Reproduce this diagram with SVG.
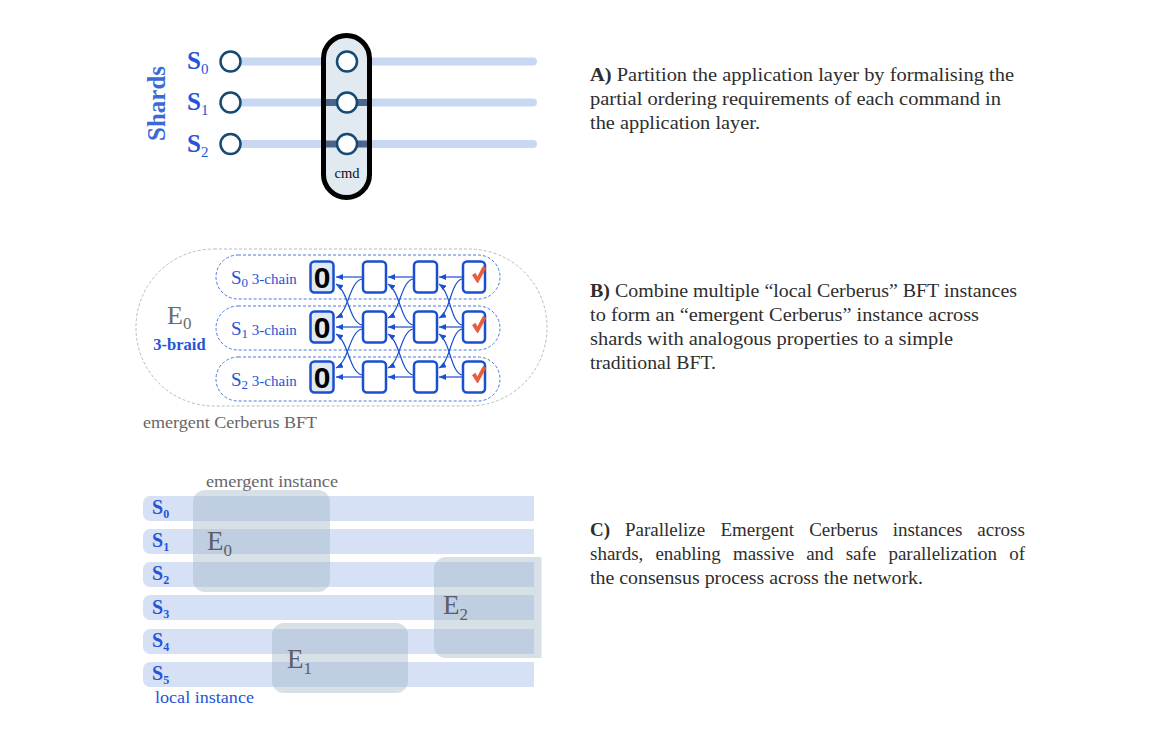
<svg xmlns="http://www.w3.org/2000/svg" width="1162" height="745" viewBox="0 0 1162 745">
<style>
.sf{font-family:"Liberation Serif","Times New Roman",serif}
.body{font-family:"Liberation Serif","Times New Roman",serif;font-size:19px;fill:#2e2e2e}
.blue{fill:#2554d8}
.trk{stroke:#c9d8f2;stroke-width:8;stroke-linecap:round}
.nd{fill:#fff;stroke:#174a72;stroke-width:2.5}
.box{fill:#fff;stroke:#1a4fd0;stroke-width:2.5}
.gen{fill:#e1e9f2}
.arr{fill:none;stroke:#1a4fd0;stroke-width:1.2;marker-end:url(#ah)}
.bar{fill:#d6e1f5}
.em{fill:#9fb4c6;fill-opacity:.42}
.dash{fill:none;stroke:#4a78e0;stroke-width:1;stroke-dasharray:3 2}
.zero{font-family:"Liberation Sans",Arial,sans-serif;font-weight:bold;font-size:30px;fill:#000}
</style>
<defs>
<marker id="ah" viewBox="0 0 7 6" refX="7" refY="3" markerWidth="7" markerHeight="6" markerUnits="userSpaceOnUse" orient="auto">
<path d="M0,0 L7,3 L0,6 z" fill="#1a4fd0"/>
</marker>
<path id="check" d="M472.5 275.2 L475.3 273.2 L477.3 277.3 L483.2 266.3 L485.8 268.2 L477.6 283 Z" fill="#ea5a3c" stroke="#ea5a3c" stroke-width="0.8" stroke-linejoin="round"/>
<clipPath id="barclip"><rect x="100" y="480" width="434" height="230"/></clipPath>
<clipPath id="e2clip"><rect x="420" y="540" width="121.5" height="140"/></clipPath>
</defs>
<rect width="1162" height="745" fill="#fff"/>

<!-- Section A -->
<g id="sectionA">
<text class="sf" font-weight="bold" font-size="25" fill="#3a6ad8" text-anchor="middle" transform="translate(165,103.5) rotate(-90)">Shards</text>
<line class="trk" x1="231" y1="61.5" x2="533" y2="61.5"/>
<line class="trk" x1="231" y1="102.5" x2="533" y2="102.5"/>
<line class="trk" x1="231" y1="144" x2="533" y2="144"/>
<g id="cmd">
<rect x="323.5" y="35.5" width="46" height="162" rx="23" fill="#e1e9f1" stroke="#000" stroke-width="5"/>
<line x1="326" y1="102.5" x2="367" y2="102.5" stroke="#1a3a6a" stroke-opacity="0.75" stroke-width="7"/>
<line x1="326" y1="144" x2="367" y2="144" stroke="#1a3a6a" stroke-opacity="0.75" stroke-width="7"/>
<circle class="nd" cx="347" cy="61.5" r="10"/>
<circle class="nd" cx="347" cy="102.5" r="10"/>
<circle class="nd" cx="347" cy="144" r="10"/>
<text class="sf" x="347" y="178" font-size="14.5" fill="#111" text-anchor="middle">cmd</text>
</g>
<g id="shardS0"><text class="sf blue" x="187" y="69" font-size="25" font-weight="bold">S<tspan font-size="15" font-weight="normal" dy="5">0</tspan></text><circle class="nd" cx="230.5" cy="61.5" r="10"/></g>
<g id="shardS1"><text class="sf blue" x="187" y="110" font-size="25" font-weight="bold">S<tspan font-size="15" font-weight="normal" dy="5">1</tspan></text><circle class="nd" cx="230.5" cy="102.5" r="10"/></g>
<g id="shardS2"><text class="sf blue" x="187" y="151.5" font-size="25" font-weight="bold">S<tspan font-size="15" font-weight="normal" dy="5">2</tspan></text><circle class="nd" cx="230.5" cy="144" r="10"/></g>
</g>

<!-- Section B -->
<g id="sectionB">
<rect x="136" y="249" width="411" height="157" rx="78" fill="none" stroke="#b4bcc8" stroke-width="1" stroke-dasharray="3 2"/>
<text class="sf" x="167" y="324" font-size="26" fill="#6b6b6b">E<tspan font-size="17" dy="5">0</tspan></text>
<text class="sf blue" x="179.5" y="350" font-size="16.5" font-weight="bold" text-anchor="middle">3-braid</text>
<text class="sf" x="143" y="428" font-size="16.5" fill="#666" textLength="174" lengthAdjust="spacingAndGlyphs">emergent Cerberus BFT</text>

<g id="chain0">
<rect class="dash" x="216" y="255" width="284" height="44" rx="22"/>
<text class="sf blue" x="231" y="284" font-size="19">S<tspan font-size="13" dy="3">0</tspan><tspan font-size="15" dy="-3"> 3-chain</tspan></text>
<rect class="box gen" x="310.5" y="261.5" width="23" height="31" rx="4"/>
<text class="zero" x="322" y="288" text-anchor="middle">0</text>
<rect class="box" x="363" y="261.5" width="23" height="31" rx="4"/>
<rect class="box" x="414" y="261.5" width="23" height="31" rx="4"/>
<rect class="box" x="463" y="261.5" width="22" height="31" rx="4"/>
<use href="#check"/>
</g>
<g id="chain1">
<rect class="dash" x="216" y="306" width="284" height="44" rx="22"/>
<text class="sf blue" x="231" y="335" font-size="19">S<tspan font-size="13" dy="3">1</tspan><tspan font-size="15" dy="-3"> 3-chain</tspan></text>
<rect class="box gen" x="310.5" y="311.5" width="23" height="31" rx="4"/>
<text class="zero" x="322" y="338" text-anchor="middle">0</text>
<rect class="box" x="363" y="311.5" width="23" height="31" rx="4"/>
<rect class="box" x="414" y="311.5" width="23" height="31" rx="4"/>
<rect class="box" x="463" y="311.5" width="22" height="31" rx="4"/>
<use href="#check" transform="translate(0,50)"/>
</g>
<g id="chain2">
<rect class="dash" x="216" y="357" width="284" height="44" rx="22"/>
<text class="sf blue" x="231" y="386" font-size="19">S<tspan font-size="13" dy="3">2</tspan><tspan font-size="15" dy="-3"> 3-chain</tspan></text>
<rect class="box gen" x="310.5" y="361.5" width="23" height="31" rx="4"/>
<text class="zero" x="322" y="388" text-anchor="middle">0</text>
<rect class="box" x="363" y="361.5" width="23" height="31" rx="4"/>
<rect class="box" x="414" y="361.5" width="23" height="31" rx="4"/>
<rect class="box" x="463" y="361.5" width="22" height="31" rx="4"/>
<use href="#check" transform="translate(0,100)"/>
</g>

<g id="connectors">
<path class="arr" d="M362 277 L336 277"/>
<path class="arr" d="M362 327 L336 327"/>
<path class="arr" d="M362 377 L336 377"/>
<path class="arr" d="M362 279 C349 282, 349 312, 336 318"/>
<path class="arr" d="M362 329 C349 332, 349 362, 336 368"/>
<path class="arr" d="M362 325 C349 322, 349 292, 336 284"/>
<path class="arr" d="M362 375 C349 372, 349 342, 336 334"/>

<path class="arr" d="M413 277 L388 277"/>
<path class="arr" d="M413 327 L388 327"/>
<path class="arr" d="M413 377 L388 377"/>
<path class="arr" d="M413 279 C400.5 282, 400.5 312, 388 318"/>
<path class="arr" d="M413 329 C400.5 332, 400.5 362, 388 368"/>
<path class="arr" d="M413 325 C400.5 322, 400.5 292, 388 284"/>
<path class="arr" d="M413 375 C400.5 372, 400.5 342, 388 334"/>

<path class="arr" d="M462 277 L439 277"/>
<path class="arr" d="M462 327 L439 327"/>
<path class="arr" d="M462 377 L439 377"/>
<path class="arr" d="M462 279 C450.5 282, 450.5 312, 439 318"/>
<path class="arr" d="M462 329 C450.5 332, 450.5 362, 439 368"/>
<path class="arr" d="M462 325 C450.5 322, 450.5 292, 439 284"/>
<path class="arr" d="M462 375 C450.5 372, 450.5 342, 439 334"/>
</g>
</g>

<!-- Section C -->
<g id="sectionC">
<g id="bars" clip-path="url(#barclip)">
<rect class="bar" x="143" y="496" width="420" height="25" rx="7"/>
<rect class="bar" x="143" y="529" width="420" height="25" rx="7"/>
<rect class="bar" x="143" y="562" width="420" height="25" rx="7"/>
<rect class="bar" x="143" y="595" width="420" height="25" rx="7"/>
<rect class="bar" x="143" y="629" width="420" height="25" rx="7"/>
<rect class="bar" x="143" y="662" width="420" height="25" rx="7"/>
</g>
<g id="barLabels" class="sf blue" font-size="20" font-weight="bold">
<text x="152" y="514">S<tspan font-size="12" dy="4">0</tspan></text>
<text x="152" y="547">S<tspan font-size="12" dy="4">1</tspan></text>
<text x="152" y="580">S<tspan font-size="12" dy="4">2</tspan></text>
<text x="152" y="614">S<tspan font-size="12" dy="4">3</tspan></text>
<text x="152" y="647">S<tspan font-size="12" dy="4">4</tspan></text>
<text x="152" y="680">S<tspan font-size="12" dy="4">5</tspan></text>
</g>
<g id="E0"><rect class="em" x="193" y="490" width="137" height="102" rx="12"/>
<text class="sf" x="207" y="550" font-size="27" fill="#5b6068">E<tspan font-size="17" dy="6">0</tspan></text></g>
<g id="E1"><rect class="em" x="272" y="623" width="136" height="70" rx="12"/>
<text class="sf" x="287" y="668" font-size="27" fill="#5b6068">E<tspan font-size="17" dy="6">1</tspan></text></g>
<g id="E2"><rect class="em" x="434" y="557" width="130" height="101" rx="12" clip-path="url(#e2clip)"/>
<text class="sf" x="443" y="614" font-size="27" fill="#5b6068">E<tspan font-size="17" dy="6">2</tspan></text></g>
<text class="sf" x="206" y="487" font-size="16.5" fill="#666" textLength="132" lengthAdjust="spacingAndGlyphs">emergent instance</text>
<text class="sf blue" x="155" y="703" font-size="16.5" textLength="99" lengthAdjust="spacingAndGlyphs">local instance</text>
</g>

<!-- Descriptions -->
<g id="descA" class="body">
<text x="590" y="81" textLength="424" lengthAdjust="spacingAndGlyphs"><tspan font-weight="bold">A)</tspan> Partition the application layer by formalising the</text>
<text x="590" y="105" textLength="411" lengthAdjust="spacingAndGlyphs">partial ordering requirements of each command in</text>
<text x="590" y="129" textLength="170" lengthAdjust="spacingAndGlyphs">the application layer.</text>
</g>
<g id="descB" class="body">
<text x="590" y="297" textLength="427" lengthAdjust="spacingAndGlyphs"><tspan font-weight="bold">B)</tspan> Combine multiple “local Cerberus” BFT instances</text>
<text x="590" y="321" textLength="389" lengthAdjust="spacingAndGlyphs">to form an “emergent Cerberus” instance across</text>
<text x="590" y="345" textLength="363" lengthAdjust="spacingAndGlyphs">shards with analogous properties to a simple</text>
<text x="590" y="369" textLength="126" lengthAdjust="spacingAndGlyphs">traditional BFT.</text>
</g>
<g id="descC" class="body">
<text y="536"><tspan x="590" font-weight="bold">C)</tspan><tspan x="625">Parallelize</tspan><tspan x="720.4">Emergent</tspan><tspan x="809.2">Cerberus</tspan><tspan x="892.7">instances</tspan><tspan x="977.3">across</tspan></text>
<text y="560"><tspan x="590">shards,</tspan><tspan x="655.4">enabling</tspan><tspan x="732.9">massive</tspan><tspan x="806.2">and</tspan><tspan x="845.7">safe</tspan><tspan x="888.4">parallelization</tspan><tspan x="1009.2">of</tspan></text>
<text x="590" y="584" textLength="333" lengthAdjust="spacingAndGlyphs">the consensus process across the network.</text>
</g>
</svg>
